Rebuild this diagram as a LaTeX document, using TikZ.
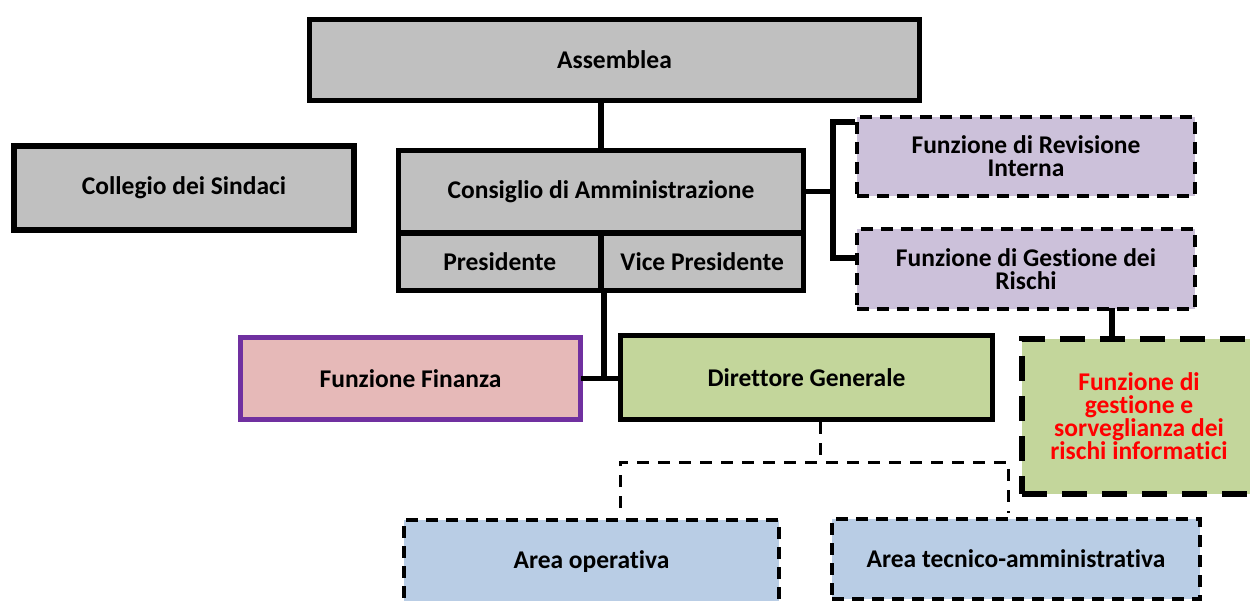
\documentclass[tikz,border=0pt]{standalone}
\usepackage{fontspec}
\setmainfont{Carlito}[Ligatures={NoCommon}]
\definecolor{grayC}{HTML}{C0C0C0}
\definecolor{lilac}{HTML}{CCC1DA}
\definecolor{greenC}{HTML}{C3D69B}
\definecolor{pinkC}{HTML}{E6B9B8}
\definecolor{blueC}{HTML}{B9CDE5}
\definecolor{purpleC}{HTML}{7030A0}
\definecolor{redC}{HTML}{FF0000}
\begin{document}
\begin{tikzpicture}[x=1pt,y=-1pt,
  base/.style={draw=black, line width=5.5pt, font=\bfseries\fontsize{25.5}{23}\selectfont, align=center, inner sep=0pt},
  graybox/.style={base, fill=grayC},
  dashbox/.style={base, line width=4pt, dash pattern=on 12pt off 8pt},
  lilacbox/.style={dashbox, fill=lilac},
  bluebox/.style={dashbox, fill=blueC},
  conn/.style={line width=5.5pt, line cap=rect},
  dconn/.style={line width=3pt, dash pattern=on 12pt off 9pt}
]
\useasboundingbox (0,0) rectangle (1250,601);
% boxes
\node[graybox, minimum width=610, minimum height=81] (ass) at (614.5,60) {Assemblea};
\node[graybox, minimum width=340, minimum height=84] (col) at (184,188) {Collegio dei Sindaci};
\node[graybox, minimum width=405, minimum height=82.5] (cons) at (601,191.75) {Consiglio di Amministrazione};
\node[graybox, minimum width=202.5, minimum height=57.5] (pres) at (499.75,261.75) {Presidente};
\node[graybox, minimum width=202.5, minimum height=57.5] (vice) at (702.25,261.75) {Vice Presidente};
\node[lilacbox, minimum width=338, minimum height=79] (rev) at (1026,156.5) {Funzione di Revisione\\Interna};
\node[lilacbox, minimum width=338, minimum height=80] (ges) at (1026,269) {Funzione di Gestione dei\\Rischi};
\node[base, line width=6pt, dash pattern=on 25pt off 15pt, fill=greenC, text=redC, minimum width=234, minimum height=155] (sorv) at (1139,416.5) {Funzione di\\gestione e\\sorveglianza dei\\rischi informatici};
\node[base, draw=purpleC, fill=pinkC, minimum width=340, minimum height=82] (fin) at (410.5,378.5) {Funzione Finanza};
\node[base, fill=greenC, minimum width=372, minimum height=84] (dir) at (806.5,377.5) {Direttore Generale};
\node[bluebox, minimum width=375, minimum height=84] (op) at (591.5,562) {Area operativa};
\node[bluebox, minimum width=368, minimum height=80] (tec) at (1016,559) {Area tecnico-amministrativa};
% connectors
\draw[conn] (cons.north) -- (cons.north |- ass.south);
\coordinate (bt) at (833,122);
\coordinate (bb) at (833,258);
\draw[conn] (cons.east) -- (cons.east -| bt);
\draw[line width=5.5pt] (rev.west |- bt) -- (bt) -- (bb) -- (ges.west |- bb);
\coordinate (gs) at (1112,0);
\draw[conn] (ges.south -| gs) -- (sorv.north -| gs);
\draw[conn] (pres.south east) -- (pres.south east |- fin.east);
\draw[conn] (fin.east) -- (fin.east -| dir.west);
\coordinate (ds) at (820,462);
\coordinate (hl) at (620,462);
\coordinate (hr) at (1008,462);
\coordinate (opin) at (620,508);
\coordinate (tecin) at (1008,513);
\draw[dconn] (dir.south -| ds) -- (ds);
\draw[dconn] (opin) -- (hl) -- (hr) -- (tecin);
\end{tikzpicture}
\end{document}
